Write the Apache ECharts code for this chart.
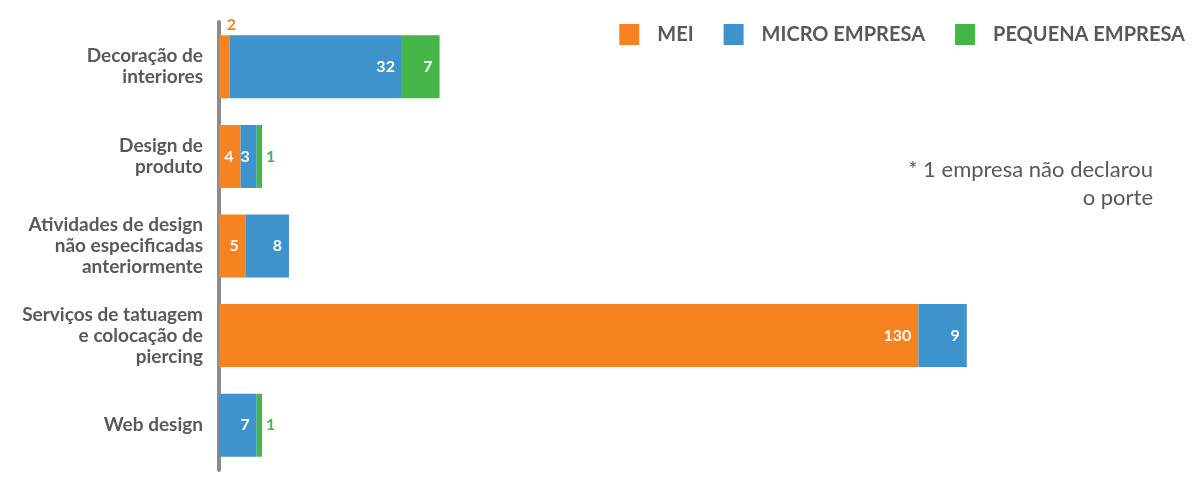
<!DOCTYPE html>
<html lang="pt">
<head>
    <meta charset="UTF-8">
    <title>Porte das empresas</title>
    <style>
        html,body{margin:0;padding:0;background:#fff;}
        #barChart{width:1194px;height:479px;}
    </style>
</head>
<body>
<div id="barChart"></div>
<script src="https://cdn.jsdelivr.net/npm/echarts@6/dist/echarts.min.js"></script>
<script>
    // dados
    var categories = ['Decoração de\ninteriores', 'Design de\nproduto', 'Atividades de design\nnão especificadas\nanteriormente', 'Serviços de tatuagem\ne colocação de\npiercing', 'Web design'];
    var mei = [2, 4, 5, 130, 0];
    var micro = [32, 3, 8, 9, 7];
    var pequena = [7, 1, 0, 0, 1];
    var seriesNames = ['MEI', 'MICRO EMPRESA', 'PEQUENA EMPRESA'];
    var noteLines = ['* 1 empresa não declarou', 'o porte'];
    var colors = ['#f6831f', '#3e93cd', '#46b649'];

    var fontFamily = 'Lato, "Open Sans", sans-serif';

    // valores pequenos ficam com o rótulo fora da barra
    function makeData(values, color, outsidePos) {
        return values.map(function (v) {
            if (v > 0 && v < 3) {
                return {
                    value: v,
                    label: {
                        position: outsidePos,
                        color: color,
                        distance: outsidePos === 'top' ? 2 : 4,
                        offset: outsidePos === 'top' ? [7, 0] : [0, 0]
                    }
                };
            }
            return v;
        });
    }

    function barSeries(name, values, color, outsidePos) {
        return {
            name: name,
            type: 'bar',
            stack: 'total',
            barWidth: 63,
            itemStyle: {color: color},
            label: {
                show: true,
                position: 'insideRight',
                distance: 7,
                color: '#fff',
                fontFamily: fontFamily,
                fontWeight: 'bold',
                fontSize: 16,
                formatter: function (p) {
                    return p.value ? p.value : '';
                }
            },
            data: makeData(values, color, outsidePos)
        };
    }

    var myChart = echarts.init(document.getElementById('barChart'));
    var option = {
        animation: false,
        color: colors,
        legend: {
            right: 4,
            top: 19,
            itemWidth: 20,
            itemHeight: 21,
            itemGap: 30,
            icon: 'rect',
            textStyle: {
                color: '#595959',
                fontFamily: fontFamily,
                fontWeight: 'bold',
                fontSize: 20,
                padding: [0, 0, 0, 13]
            },
            data: seriesNames
        },
        grid: {
            left: 219,
            right: 168,
            top: 22,
            bottom: 9
        },
        xAxis: {
            type: 'value',
            min: 0,
            max: 150,
            show: false
        },
        yAxis: {
            type: 'category',
            inverse: true,
            offset: 2,
            data: categories,
            axisTick: {show: false},
            axisLine: {
                show: true,
                lineStyle: {color: '#8c8c8c', width: 4}
            },
            axisLabel: {
                margin: 14,
                color: '#595959',
                fontFamily: fontFamily,
                fontWeight: 'bold',
                fontSize: 19,
                lineHeight: 21,
                align: 'right'
            }
        },
        graphic: noteLines.map(function (t, i) {
            return {
                type: 'text',
                right: 41,
                top: 159 + i * 28,
                style: {
                    text: t,
                    fill: '#595959',
                    font: '22px ' + fontFamily
                }
            };
        }),
        series: [
            barSeries(seriesNames[0], mei, colors[0], 'top'),
            barSeries(seriesNames[1], micro, colors[1], 'right'),
            barSeries(seriesNames[2], pequena, colors[2], 'right')
        ]
    };
    myChart.setOption(option);
</script>
</body>
</html>
